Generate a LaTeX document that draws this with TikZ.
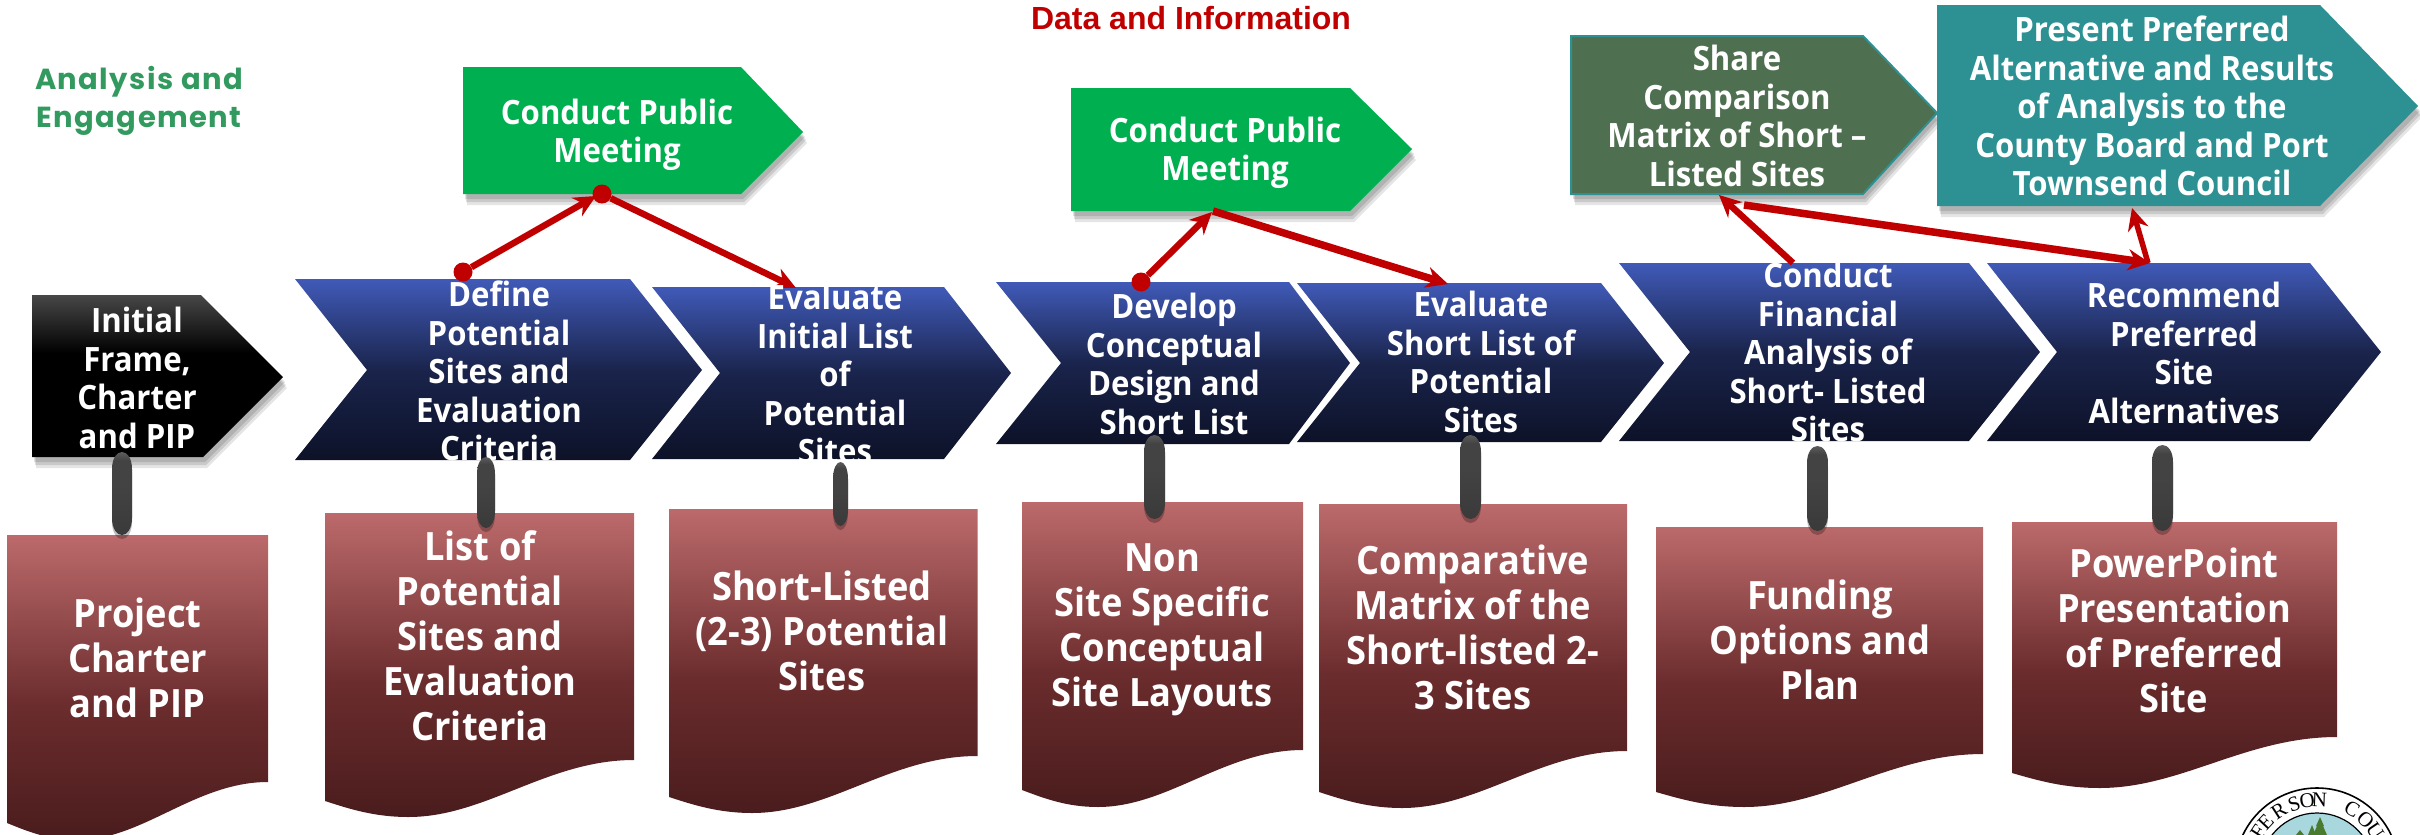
\documentclass[tikz,border=0pt]{standalone}
\usepackage{fontspec}
\setmainfont{Open Sans}
\newfontfamily\tallfont{Open Sans}[FakeStretch=0.93]
\newfontfamily\arialfont{Liberation Sans}
\newfontfamily\handfont{Poppins}[LetterSpace=5]
\newfontfamily\sealfont{Liberation Serif}
\usetikzlibrary{arrows.meta,shadows,calc}
\definecolor{redline}{HTML}{C00000}
\definecolor{greenbox}{HTML}{00B050}
\definecolor{sharefill}{HTML}{4F7050}
\definecolor{tealbox}{HTML}{2D9193}
\definecolor{labelgreen}{HTML}{339A5F}
\definecolor{sealblue}{HTML}{A8D8DE}
\definecolor{treegreen}{HTML}{4A7A2E}
\definecolor{cvb}{HTML}{0D1228}\definecolor{cvm}{HTML}{1A244C}\definecolor{cvt}{HTML}{405AB8}
\definecolor{dcb}{HTML}{4A1C1D}\definecolor{dcm}{HTML}{6B2C2D}\definecolor{dct}{HTML}{BC6A6B}
\definecolor{blktop}{HTML}{474747}
\definecolor{pilltop}{HTML}{5C5C5C}\definecolor{pillmid}{HTML}{434343}\definecolor{pillbot}{HTML}{3A3A3A}
\pgfdeclareverticalshading{chevshade}{100bp}{color(0bp)=(cvb);color(25bp)=(cvb);color(50bp)=(cvm);color(75bp)=(cvt);color(100bp)=(cvt)}
\pgfdeclareverticalshading{docshade}{100bp}{color(0bp)=(dcb);color(25bp)=(dcb);color(47bp)=(dcm);color(75bp)=(dct);color(100bp)=(dct)}
\pgfdeclareverticalshading{blackshade}{100bp}{color(0bp)=(black);color(25bp)=(black);color(57bp)=(black);color(75bp)=(blktop);color(100bp)=(blktop)}
\pgfdeclareverticalshading{pillshade}{100bp}{color(0bp)=(pillbot);color(25bp)=(pillbot);color(55bp)=(pillmid);color(70bp)=(pillmid);color(75bp)=(pilltop);color(100bp)=(pilltop)}
\tikzset{
 softshadow/.style={
  drop shadow={shadow xshift=2pt,shadow yshift=-5pt,opacity=.12,fill=black},
  drop shadow={shadow xshift=3pt,shadow yshift=-8pt,opacity=.12,fill=black},
  drop shadow={shadow xshift=4pt,shadow yshift=-11pt,opacity=.10,fill=black}},
 chevtext/.style={text=white,align=center,inner sep=0pt,font=\tallfont\fontsize{33.5}{38.5}\selectfont\bfseries},
 doctext/.style={text=white,align=center,inner sep=0pt,font=\tallfont\fontsize{39}{45}\selectfont\bfseries},
 redarrow/.style={draw=redline,line width=6.5pt,-{Stealth[length=22pt,width=21pt]}},
 reddot/.style={circle,fill=redline,inner sep=0pt,minimum size=19pt},
}
\newcommand{\chevbox}[7]{% xl xs xt xn top bot mid
 \path[shading=chevshade] (#1,#5)--(#2,#5)--(#3,#7)--(#2,#6)--(#1,#6)--(#4,#7)--cycle;}
\newcommand{\docbox}[6]{% x0 x1 top rb lb low
 \path[shading=docshade] (#1,#3)--(#2,#3)--(#2,#4)
  .. controls ({#1+.72*(#2-#1)},#4) and ({#1+.52*(#2-#1)},#6) .. ({#1+.27*(#2-#1)},#6)
  .. controls ({#1+.16*(#2-#1)},#6) and ({#1+.08*(#2-#1)},{#5+.5*(#6-#5)}) .. (#1,#5) --cycle;}
% pill: x left, x right, y top, y bottom
\newcommand{\pill}[4]{%
 \path[shading=pillshade,drop shadow={shadow xshift=0pt,shadow yshift=-4pt,opacity=.25,fill=black}]
  (#1,{#3+17}) .. controls (#1,{#3+6}) and ({#1+.25*(#2-#1)},#3) .. ({.5*(#1+#2)},#3)
  .. controls ({#2-.25*(#2-#1)},#3) and (#2,{#3+6}) .. (#2,{#3+17})
  -- (#2,{#4-17}) .. controls (#2,{#4-6}) and ({#2-.25*(#2-#1)},#4) .. ({.5*(#1+#2)},#4)
  .. controls ({#1+.25*(#2-#1)},#4) and (#1,{#4-6}) .. (#1,{#4-17}) -- cycle;}
\begin{document}
\begin{tikzpicture}[x=1pt,y=-1pt]
\useasboundingbox (0,0) rectangle (2420,835);
\begin{scope}
\clip (0,0) rectangle (2420,835);
% seal
\draw[black,line width=1.6pt,fill=white] (2317,870) circle (82);
\draw[black,line width=1.2pt,fill=sealblue] (2317,870) circle (57);
\fill[treegreen] (2320,817)--(2324,826)--(2323,826)--(2327,835)--(2313,835)--(2317,826)--(2316,826)--cycle;
\fill[treegreen] (2312,825)--(2316,835)--(2308,835)--cycle;
\fill[treegreen] (2300,830)--(2304,835)--(2296,835)--cycle;
\foreach \ang/\ch [count=\i] in {-57/F,-47/E,-33/R,-19/S,-8/O,2/N,30/C,44/O,56/U}{
  \node[font=\sealfont\fontsize{21}{21}\selectfont,inner sep=0pt,rotate=-\ang] (s\i) at ({2317+70*sin(\ang)},{870-70*cos(\ang)}) {\ch};}
% documents
\docbox{7}{268}{535}{782}{823}{840}
\docbox{325}{634}{513}{760}{801}{817}
\docbox{669}{977.5}{509}{756}{797}{813}
\docbox{1022}{1303}{502}{750}{790}{807}
\docbox{1319}{1627}{504}{751}{792}{808}
\docbox{1656}{1983}{527}{754}{792}{807}
\docbox{2012}{2337}{522}{737}{773}{788}
\end{scope}
% chevrons
\path[softshadow,shading=blackshade] (32,295)--(201,295)--(283,377)--(203,457)--(32,457)--cycle;
\chevbox{295}{630}{702}{367}{279}{460}{370}
\chevbox{652}{944}{1011}{720}{287}{459}{373}
\chevbox{996}{1289}{1350}{1061}{282}{444}{363}
\chevbox{1297}{1601}{1664}{1360}{283}{442}{363}
\chevbox{1619}{1969}{2040}{1690}{263}{441}{352}
\chevbox{1987}{2310}{2381}{2057}{263}{441}{352}
% upper boxes
\path[softshadow,fill=greenbox] (463,67)--(741,67)--(803,132)--(741,194)--(463,194)--cycle;
\path[softshadow,fill=greenbox] (1071,88)--(1350,88)--(1412,149)--(1350,211)--(1071,211)--cycle;
\path[softshadow,fill=sharefill,draw=tealbox,line width=2pt] (1571,36)--(1863,36)--(1937,113)--(1863,194)--(1571,194)--cycle;
\path[softshadow,fill=tealbox] (1937,5)--(2320,5)--(2418,106)--(2320,206)--(1937,206)--cycle;
% anchor points of the connectors
\node[reddot] (d1from) at (463,272) {};
\node[reddot] (m1out) at (602,194) {};
\node[reddot] (d2from) at (1141,282) {};
\coordinate (m1in) at (596,196);
\coordinate (e1to) at (796,288);
\coordinate (m2in) at (1212,212);
\coordinate (m2out) at (1213,211);\coordinate (e2to) at (1448,284);
\coordinate (fin) at (1793,263);\coordinate (sharein) at (1719,195);
\coordinate (shareout) at (1744,205);\coordinate (rec) at (2150,263);
\coordinate (recfrom) at (2148,263);\coordinate (presin) at (2132,208);
% connectors
\draw[redarrow] (d1from) -- (m1in);
\draw[redarrow] (m1out) -- (e1to);
\draw[redarrow] (d2from) -- (m2in);
\draw[redarrow,line width=7.5pt] (m2out) -- (e2to);
\draw[redarrow] (fin) -- (sharein);
\draw[redarrow,line width=7.5pt] (shareout) -- (rec);
\draw[redarrow,line width=5.5pt] (recfrom) -- (presin);
% free labels
\node[text=labelgreen,align=center,inner sep=0pt,font=\handfont\fontsize{29}{38}\selectfont\bfseries] (lab) at (139,101) {Analysis and\\Engagement};
\node[text=redline,inner sep=0pt,font=\arialfont\fontsize{32}{36}\selectfont\bfseries] (dat) at (1191,18) {Data and Information};
% texts in boxes
\node[chevtext] (g1) at (617,135) {Conduct Public\\Meeting};
\node[chevtext] (g2) at (1225,153) {Conduct Public\\Meeting};
\node[chevtext] (sh) at (1737,116) {Share\\Comparison\\Matrix of Short –\\Listed Sites};
\node[chevtext] (pr) at (2152,106) {Present Preferred\\Alternative and Results\\of Analysis to the\\County Board and Port\\Townsend Council};
\node[chevtext] (t0) at (137,378) {Initial\\Frame,\\Charter\\and PIP};
\node[chevtext] (c1) at (499,371) {Define\\Potential\\Sites and\\Evaluation\\Criteria};
\node[chevtext] (c2) at (835,374) {Evaluate\\Initial List\\of\\Potential\\Sites};
\node[chevtext] (c3) at (1174,364) {Develop\\Conceptual\\Design and\\Short List};
\node[chevtext] (c4) at (1481,362) {Evaluate\\Short List of\\Potential\\Sites};
\node[chevtext] (c5) at (1828,352) {Conduct\\Financial\\Analysis of\\Short- Listed\\Sites};
\node[chevtext] (c6) at (2184,353) {Recommend\\Preferred\\Site\\Alternatives};
\node[doctext] (d1) at (137.5,658) {Project\\Charter\\and PIP};
\node[doctext] (d2) at (480,636) {List of\\Potential\\Sites and\\Evaluation\\Criteria};
\node[doctext] (d3) at (822,631) {Short-Listed\\(2-3) Potential\\Sites};
\node[doctext] (d4) at (1162,630) {Non\\Site Specific\\Conceptual\\Site Layouts};
\node[doctext] (d5) at (1473,627) {Comparative\\Matrix of the\\Short-listed 2-\\3 Sites};
\node[doctext] (d6) at (1820,640) {Funding\\Options and\\Plan};
\node[doctext] (d7) at (2174,630) {PowerPoint\\Presentation\\of Preferred\\Site};
% pills
\pill{112}{132}{452}{535}
\pill{477}{495}{457}{528}
\pill{833}{848}{462}{526}
\pill{1144}{1165}{435}{519}
\pill{1460}{1481}{435}{519}
\pill{1807}{1828}{446}{531}
\pill{2152}{2173}{445}{531}
\end{tikzpicture}
\end{document}
